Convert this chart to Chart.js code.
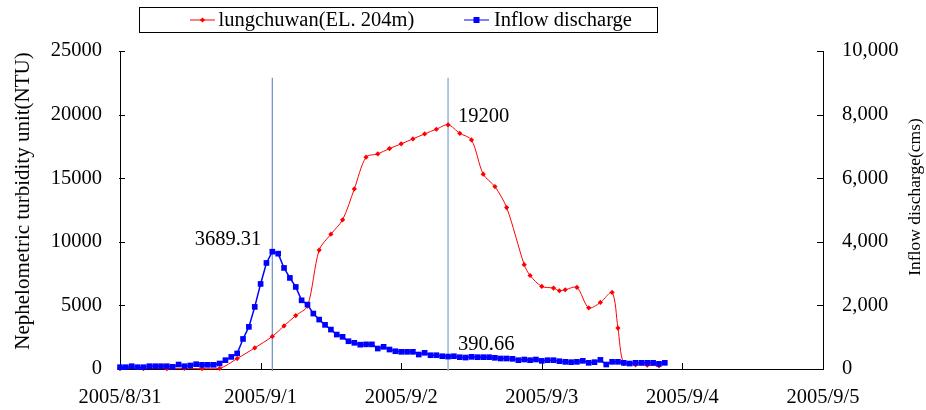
<!DOCTYPE html>
<html>
<head>
<meta charset="utf-8">
<script src="https://cdn.jsdelivr.net/npm/chart.js@4.4.1/dist/chart.umd.min.js"></script>
<style>
  html, body { margin: 0; padding: 0; background: #ffffff; }
  #wrap { width: 926px; height: 410px; position: relative; }
</style>
</head>
<body>
<div id="wrap"><canvas id="c" width="926" height="410"></canvas></div>
<script>
// Date labels for the x axis, one per day (axis unit = hours from 2005/8/31 00:00)
const dateLabels = ['2005/8/31', '2005/9/1', '2005/9/2', '2005/9/3', '2005/9/4', '2005/9/5'];

// Turbidity at lungchuwan (EL. 204m), NTU
const turbidityName = 'lungchuwan(EL. 204m)';
const turbidityHours = [0, 4, 8, 11, 14, 17, 20, 23, 26,
  28, 30, 32, 34, 36, 38, 40, 42, 44, 46, 48, 50, 52, 54, 56, 58, 60, 62, 64, 66,
  69, 70, 72, 74, 75, 76, 78, 80, 82, 84, 85, 86, 88, 90, 92];
const turbidityNTU = [30, 30, 20, 40, 30, 40, 820, 1660, 2560,
  3390, 4200, 4950, 9350, 10600, 11730, 14160, 16650, 16910, 17330, 17700, 18090, 18480, 18850, 19200, 18530, 18010, 15320, 14340, 12690,
  8200, 7350, 6490, 6360, 6150, 6230, 6410, 4810, 5230, 6020, 3220, 420, 330, 300, 250];

// Hourly inflow discharge, cms (first value at 2005/8/31 00:00)
const dischargeName = 'Inflow discharge';
const dischargeCMS = [
  57, 57, 88, 57, 57, 88, 88, 88, 88, 68,
  141, 88, 110, 151, 131, 131, 131, 173, 277, 380,
  490, 945, 1325, 1953, 2675, 3335, 3689.31, 3627, 3178, 2864,
  2581, 2160, 2025, 1743, 1554, 1388, 1240, 1083, 1011, 873,
  823, 765, 775, 775, 644, 697, 612, 559, 540, 540,
  540, 455, 509, 433, 433, 402, 390.66, 402, 371, 360,
  382, 372, 372, 372, 351, 330, 330, 319, 277, 298,
  277, 298, 256, 277, 277, 246, 225, 215, 225, 256,
  194, 215, 287, 141, 225, 225, 194, 172, 194, 194,
  194, 194, 162, 194];

// Axis titles
const leftTitle = 'Nephelometric turbidity unit(NTU)';
const rightTitle = 'Inflow discharge(cms)';

// Top of the two guide lines, in NTU
const guideTopNTU = 22900;

const SERIF = "'Liberation Serif', 'Times New Roman', serif";
Chart.defaults.font.family = SERIF;
Chart.defaults.color = '#000000';

const turbidityPoints = turbidityHours.map((h, i) => ({ x: h, y: turbidityNTU[i] }));
const dischargePoints = dischargeCMS.map((v, i) => ({ x: i, y: v }));

const dischargePeakIdx = dischargeCMS.indexOf(Math.max(...dischargeCMS));
const turbidityPeakIdx = turbidityNTU.indexOf(Math.max(...turbidityNTU));
const turbidityPeakHour = turbidityHours[turbidityPeakIdx];

// Ticks pointing into the plot area
const inwardTicks = {
  id: 'inwardTicks',
  beforeDatasetsDraw(chart) {
    const { ctx, chartArea: a, scales } = chart;
    ctx.save();
    ctx.strokeStyle = '#000';
    ctx.lineWidth = 1;
    ctx.beginPath();
    scales.x.ticks.forEach(t => {
      const px = Math.round(scales.x.getPixelForValue(t.value)) + 0.5;
      ctx.moveTo(px, a.bottom); ctx.lineTo(px, a.bottom - 6);
    });
    scales.y.ticks.forEach(t => {
      const py = Math.round(scales.y.getPixelForValue(t.value)) + 0.5;
      ctx.moveTo(a.left - 1, py); ctx.lineTo(a.left + 5, py);
    });
    scales.y1.ticks.forEach(t => {
      const py = Math.round(scales.y1.getPixelForValue(t.value)) + 0.5;
      ctx.moveTo(a.right + 1, py); ctx.lineTo(a.right - 6, py);
    });
    ctx.stroke();
    ctx.restore();
  }
};

// Vertical guide lines at the discharge peak and the turbidity peak
const guideLines = {
  id: 'guideLines',
  beforeDatasetsDraw(chart) {
    const { ctx, chartArea: a, scales } = chart;
    const top = scales.y.getPixelForValue(guideTopNTU);
    const lines = [
      { hour: dischargePeakIdx, color: '#6a90c4', width: 1.2 },
      { hour: turbidityPeakHour, color: '#9bbbe0', width: 1.6 }
    ];
    ctx.save();
    lines.forEach(l => {
      const px = scales.x.getPixelForValue(l.hour);
      ctx.strokeStyle = l.color;
      ctx.lineWidth = l.width;
      ctx.beginPath();
      ctx.moveTo(px, top);
      ctx.lineTo(px, a.bottom + 2);
      ctx.stroke();
    });
    ctx.restore();
  }
};

// Value notes next to the peaks
const valueNotes = {
  id: 'valueNotes',
  afterDatasetsDraw(chart) {
    const { ctx } = chart;
    const redMeta = chart.getDatasetMeta(0);
    const blueMeta = chart.getDatasetMeta(1);
    ctx.save();
    ctx.font = `20.5px ${SERIF}`;
    ctx.fillStyle = '#000';
    ctx.textBaseline = 'middle';

    const bp = blueMeta.data[dischargePeakIdx];
    ctx.textAlign = 'right';
    ctx.fillText(dischargeCMS[dischargePeakIdx].toFixed(2), bp.x - 11, bp.y - 12);

    const rp = redMeta.data[turbidityPeakIdx];
    ctx.textAlign = 'left';
    ctx.fillText(String(turbidityNTU[turbidityPeakIdx]), rp.x + 10, rp.y - 8);

    const bq = blueMeta.data[turbidityPeakHour];
    ctx.fillText(dischargeCMS[turbidityPeakHour].toFixed(2), bq.x + 10, bq.y - 12);
    ctx.restore();
  }
};

// Axis titles and the boxed legend
const frameText = {
  id: 'frameText',
  afterDraw(chart) {
    const { ctx } = chart;
    ctx.save();
    ctx.fillStyle = '#000';
    ctx.textAlign = 'center';
    ctx.textBaseline = 'middle';

    ctx.save();
    ctx.translate(23, 201);
    ctx.rotate(-Math.PI / 2);
    ctx.font = `21px ${SERIF}`;
    ctx.fillText(leftTitle, 0, 0);
    ctx.restore();

    ctx.save();
    ctx.translate(915, 197);
    ctx.rotate(-Math.PI / 2);
    ctx.font = `17.5px ${SERIF}`;
    ctx.fillText(rightTitle, 0, 0);
    ctx.restore();

    // legend box
    ctx.fillStyle = '#fff';
    ctx.fillRect(139.5, 7.5, 518, 25);
    ctx.strokeStyle = '#000';
    ctx.lineWidth = 1;
    ctx.strokeRect(139.5, 7.5, 518, 25);

    const cy = 20;
    // turbidity sample
    ctx.strokeStyle = '#ff0000';
    ctx.beginPath(); ctx.moveTo(190, cy); ctx.lineTo(215, cy); ctx.stroke();
    ctx.fillStyle = '#ff0000';
    ctx.beginPath();
    ctx.moveTo(202.5, cy - 2.6); ctx.lineTo(205.1, cy); ctx.lineTo(202.5, cy + 2.6); ctx.lineTo(199.9, cy);
    ctx.closePath(); ctx.fill();
    // discharge sample
    ctx.strokeStyle = '#0000ff';
    ctx.beginPath(); ctx.moveTo(464, cy); ctx.lineTo(489, cy); ctx.stroke();
    ctx.fillStyle = '#0000ff';
    ctx.fillRect(473.5, cy - 3, 6, 6);

    ctx.fillStyle = '#000';
    ctx.textAlign = 'left';
    ctx.font = `20.5px ${SERIF}`;
    ctx.fillText(turbidityName, 218.5, cy + 1);
    ctx.fillText(dischargeName, 494, cy + 1);
    ctx.restore();
  }
};

const tickFont = { size: 20.5, family: SERIF };

new Chart(document.getElementById('c'), {
  type: 'line',
  data: {
    datasets: [
      {
        label: turbidityName,
        data: turbidityPoints,
        yAxisID: 'y',
        borderColor: '#ff0000',
        backgroundColor: '#ff0000',
        borderWidth: 1,
        pointStyle: 'rectRot',
        pointRadius: 2.6,
        pointBorderWidth: 0,
        tension: 0.3,
        clip: false,
        order: 2
      },
      {
        label: dischargeName,
        data: dischargePoints,
        yAxisID: 'y1',
        borderColor: '#0000ff',
        backgroundColor: '#0000ff',
        borderWidth: 1.5,
        pointStyle: 'rect',
        pointRadius: 4,
        pointBorderWidth: 0,
        tension: 0,
        clip: false,
        order: 1
      }
    ]
  },
  options: {
    responsive: false,
    animation: false,
    events: [],
    layout: { padding: { top: 51, left: 0, right: 0, bottom: 0 } },
    plugins: { legend: { display: false }, tooltip: { enabled: false }, title: { display: false } },
    scales: {
      x: {
        type: 'linear',
        position: 'bottom',
        min: 0,
        max: 120,
        afterBuildTicks: s => { s.ticks = dateLabels.map((_, i) => ({ value: i * 24 })); },
        ticks: {
          callback: v => dateLabels[Math.round(v / 24)],
          font: tickFont,
          color: '#000',
          padding: 16,
          maxRotation: 0,
          autoSkip: false
        },
        grid: { display: true, drawOnChartArea: false, drawTicks: false },
        border: { display: true, color: '#000', width: 1 },
        afterFit: s => { s.height = 41; }
      },
      y: {
        type: 'linear',
        position: 'left',
        min: 0,
        max: 25000,
        ticks: {
          stepSize: 5000,
          callback: v => String(v),
          font: tickFont,
          color: '#000',
          padding: 18
        },
        grid: { display: true, drawOnChartArea: false, drawTicks: false },
        border: { display: true, color: '#000', width: 1 },
        afterFit: s => { s.width = 120; }
      },
      y1: {
        type: 'linear',
        position: 'right',
        min: 0,
        max: 10000,
        ticks: {
          stepSize: 2000,
          callback: v => v.toLocaleString('en-US'),
          font: tickFont,
          color: '#000',
          padding: 19
        },
        grid: { display: true, drawOnChartArea: false, drawTicks: false },
        border: { display: true, color: '#000', width: 1 },
        afterFit: s => { s.width = 103; }
      }
    }
  },
  plugins: [inwardTicks, guideLines, valueNotes, frameText]
});
</script>
</body>
</html>
